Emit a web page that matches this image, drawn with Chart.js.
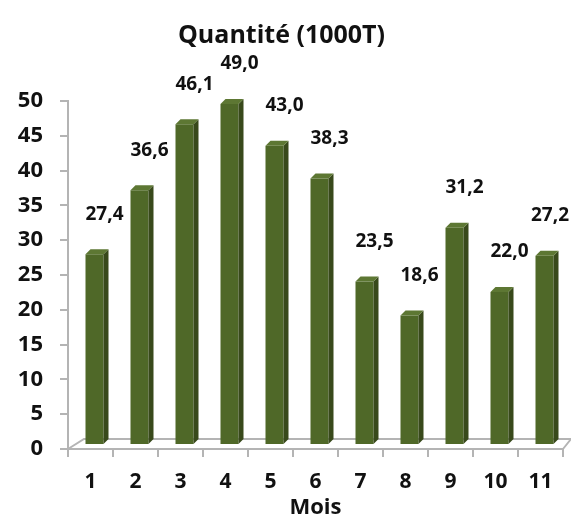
<!DOCTYPE html>
<html lang="fr">
<head>
  <meta charset="UTF-8" />
  <title>Quantité (1000T)</title>
  <script src="https://cdn.jsdelivr.net/npm/chart.js"></script>
  <style>
    html, body { margin: 0; padding: 0; background: #fff; }
    #wrap { width: 571px; height: 521px; }
  </style>
</head>
<body>
  <div id="wrap"><canvas id="chart"></canvas></div>

  <script>
    const mois = ['1', '2', '3', '4', '5', '6', '7', '8', '9', '10', '11'];
    const quantite = [27.4, 36.6, 46.1, 49.0, 43.0, 38.3, 23.5, 18.6, 31.2, 22.0, 27.2];

    const FONT = '"Open Sans", Lato, sans-serif';
    const DEPTH = 5;     // 3D depth of the columns
    const SHIFT = 4;     // columns stand a little behind the front edge of the floor

    // floor + 3D faces + value labels
    const pseudo3d = {
      id: 'pseudo3d',
      beforeDatasetsDraw(chart) {
        const { ctx, chartArea: a } = chart;
        const y0 = a.bottom;
        ctx.save();
        ctx.strokeStyle = '#b4b4b4';
        ctx.lineWidth = 2;
        ctx.beginPath();
        ctx.moveTo(a.left, y0);
        ctx.lineTo(a.left + 16, y0 - 10);
        ctx.lineTo(a.right + 8, y0 - 10);
        ctx.lineTo(a.right, y0);
        ctx.stroke();
        ctx.restore();
        ctx.save();
        ctx.translate(SHIFT, -SHIFT);
      },
      afterDatasetsDraw(chart) {
        const { ctx } = chart;
        const meta = chart.getDatasetMeta(0);
        meta.data.forEach((bar, i) => {
          const half = bar.width / 2;
          const l = bar.x - half, r = bar.x + half;
          const t = bar.y, b = bar.base;
          // side
          ctx.fillStyle = '#38491b';
          ctx.beginPath();
          ctx.moveTo(r, t);
          ctx.lineTo(r + DEPTH, t - DEPTH);
          ctx.lineTo(r + DEPTH, b - DEPTH);
          ctx.lineTo(r, b);
          ctx.closePath();
          ctx.fill();
          // top
          ctx.fillStyle = '#5d7733';
          ctx.beginPath();
          ctx.moveTo(l, t);
          ctx.lineTo(l + DEPTH, t - DEPTH);
          ctx.lineTo(r + DEPTH, t - DEPTH);
          ctx.lineTo(r, t);
          ctx.closePath();
          ctx.fill();
        });
        ctx.restore();

        ctx.save();
        ctx.fillStyle = '#111';
        ctx.font = 'bold 19px ' + FONT;
        ctx.textAlign = 'center';
        ctx.textBaseline = 'middle';
        meta.data.forEach((bar, i) => {
          const txt = quantite[i].toFixed(1).replace('.', ',');
          const w = ctx.measureText(txt).width;
          const x = Math.min(bar.x + SHIFT + 10, chart.width - w / 2 - 2);
          ctx.fillText(txt, x, bar.y - 44);
        });
        ctx.restore();
      }
    };

    new Chart(document.getElementById('chart'), {
      type: 'bar',
      data: {
        labels: mois,
        datasets: [{
          data: quantite,
          backgroundColor: '#4f6828',
          borderWidth: 0,
          barPercentage: 0.4,
          categoryPercentage: 1
        }]
      },
      options: {
        responsive: true,
        maintainAspectRatio: false,
        animation: false,
        layout: { padding: { left: 0, right: 8, top: 0, bottom: 0 } },
        plugins: {
          legend: { display: false },
          tooltip: { enabled: false },
          title: {
            display: true,
            text: 'Quantité (1000T)',
            color: '#111',
            font: { family: FONT, size: 25, weight: 'bold' },
            padding: { top: 21, bottom: 50 }
          }
        },
        scales: {
          x: {
            offset: true,
            grid: { offset: true, drawOnChartArea: false, tickLength: 8, color: '#b4b4b4', lineWidth: 2 },
            border: { color: '#b4b4b4', width: 2 },
            ticks: { color: '#111', padding: 12, font: { family: FONT, size: 21, weight: 'bold' } },
            title: {
              display: true,
              text: 'Mois',
              color: '#111',
              padding: { top: 0, bottom: 0 },
              font: { family: FONT, size: 22, weight: 'bold' }
            },
            afterFit(scale) { scale.height = 72; }
          },
          y: {
            min: 0,
            max: 50,
            grid: { drawOnChartArea: false, tickLength: 8, color: '#b4b4b4', lineWidth: 2 },
            border: { color: '#b4b4b4', width: 2 },
            ticks: { stepSize: 5, color: '#111', padding: 17, font: { family: FONT, size: 22, weight: 'bold' } },
            afterFit(scale) { scale.width = 68; }
          }
        }
      },
      plugins: [pseudo3d]
    });
  </script>
</body>
</html>
